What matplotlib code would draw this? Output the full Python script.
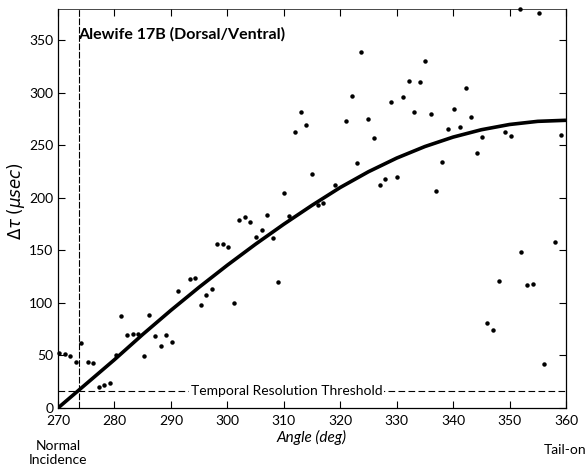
import matplotlib
matplotlib.use("Agg")
import matplotlib.pyplot as plt

plt.rcParams['font.family'] = ['Lato', 'DejaVu Sans']

# measured points (angle in deg, delta tau in usec)
angles = [270.2, 271.2, 272.2, 273.2, 274.1, 275.3, 276.2, 277.2, 278.2, 279.2,
          280.3, 281.2, 282.2, 283.2, 284.2, 285.2, 286.2, 287.2, 288.2, 289.2,
          290.2, 291.2, 293.3, 294.2, 295.3, 296.2, 297.2, 298.2, 299.2, 300.2,
          301.1, 302.1, 303.1, 304.1, 305.1, 306.1, 307.1, 308.1, 309.0, 310.1,
          311.0, 312.0, 313.0, 314.0, 315.0, 316.1, 317.0, 319.0, 321.0, 322.0,
          323.0, 323.7, 325.0, 326.0, 327.0, 328.0, 329.0, 330.0, 331.1, 332.1,
          333.1, 334.1, 335.1, 336.0, 337.0, 338.1, 339.1, 340.2, 341.2, 342.2,
          343.2, 344.2, 345.2, 346.0, 347.1, 348.1, 349.2, 350.2, 351.8, 352.0,
          353.1, 354.1, 355.3, 356.1, 358.0, 359.1]
dtau = [52.5, 51.8, 49.3, 44.2, 61.7, 43.6, 43.3, 20.4, 22.3, 24.2,
        50.3, 87.8, 69.7, 70.6, 70.6, 49.6, 88.7, 68.7, 59.2, 69.7,
        62.7, 111.6, 122.4, 123.7, 98.3, 107.5, 113.2, 156.2, 155.8, 153.0,
        100.2, 179.1, 182.0, 177.5, 162.9, 169.6, 183.5, 161.9, 119.9, 204.5,
        182.9, 263.0, 282.2, 269.8, 222.6, 193.0, 195.3, 212.5, 273.6, 296.8,
        233.1, 339.4, 274.8, 257.0, 212.5, 218.2, 291.7, 220.4, 296.1, 311.4,
        281.5, 310.8, 330.2, 279.9, 206.4, 234.4, 265.9, 284.4, 267.2, 304.7,
        277.0, 243.3, 258.0, 80.8, 73.8, 121.2, 262.7, 259.5, 380.0, 148.6,
        116.7, 118.3, 376.0, 41.7, 158.4, 260.2]

# model curve
fit_angles = [270, 275, 280, 285, 290, 295, 300, 305, 310, 315,
              320, 325, 330, 335, 340, 345, 350, 355, 360]
fit_dtau = [0, 23, 46, 70, 93, 115, 136, 156, 175, 193,
            210, 225, 238, 249, 258, 265, 270, 273, 274]

threshold = 16
normal_angle = 273.8

fig = plt.figure(figsize=(5.87, 4.66), dpi=100)
ax = fig.add_axes([0.0988, 0.1245, 0.8654, 0.8562])

ax.plot(fit_angles, fit_dtau, color='black', lw=2.6, solid_capstyle='butt', zorder=3)
ax.plot(angles, dtau, 'o', color='black', ms=2.2, clip_on=False, zorder=4)

ax.axhline(threshold, color='black', lw=0.8, dashes=(6, 3), zorder=1)
ax.axvline(normal_angle, color='black', lw=0.8, dashes=(6, 1.5), zorder=1)
ax.text(310.5, threshold, 'Temporal Resolution Threshold', ha='center', va='center',
        fontsize=10, bbox=dict(facecolor='white', edgecolor='none', pad=1.5), zorder=2)

ax.text(0.039, 0.955, 'Alewife 17B (Dorsal/Ventral)', transform=ax.transAxes,
        fontsize=11.5, fontweight='bold', ha='left', va='top')

ax.set_xlim(270, 360)
ax.set_ylim(0, 380)
ax.set_xticks(range(270, 361, 10))
ax.set_yticks(range(0, 351, 50))
ax.tick_params(direction='in', length=5, width=0.8, labelsize=10,
               top=True, right=True, labeltop=False, labelright=False)
ax.tick_params(axis='x', pad=5)
for s in ax.spines.values():
    s.set_linewidth(0.9)
ax.spines['top'].set_linewidth(0.5)

ax.set_xlabel('Angle (deg)', fontsize=11, style='italic', labelpad=2)
ax.set_ylabel(r'$\Delta\tau\;(\mathit{\mu sec})$', fontsize=12)
ax.yaxis.set_label_coords(-0.062, 0.52)

fig.text(58 / 587, 1 - 453 / 466, 'Normal\nIncidence', ha='center', va='center',
         fontsize=10, linespacing=1.1)
fig.text(565 / 587, 1 - 450 / 466, 'Tail-on', ha='center', va='center', fontsize=10)

fig.savefig('out.png', dpi=100)
